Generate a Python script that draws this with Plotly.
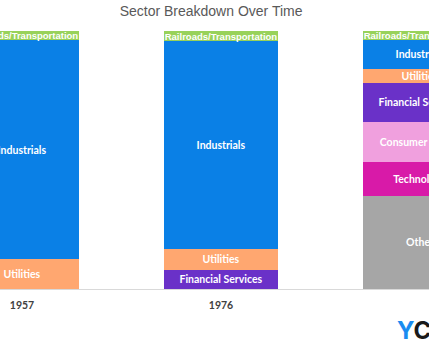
import plotly.graph_objects as go

years = ['1957', '1976', '2019']
railroads = [3.5, 3.9, 3.5]
industrials = [85.0, 80.6, 11.2]
utilities = [11.5, 8.1, 5.4]
financial = [None, 7.4, 15.1]
consumer = [None, None, 15.5]
technology = [None, None, 13.2]
other = [None, None, 36.1]

series = [
    ('Other', other, '#a6a6a6'),
    ('Technology', technology, '#d81aa8'),
    ('Consumer Goods', consumer, '#f0a0de'),
    ('Financial Services', financial, '#6a31c8'),
    ('Utilities', utilities, '#ffa770'),
    ('Industrials', industrials, '#0a80e6'),
    ('Railroads/Transportation', railroads, '#98d25a'),
]

xpos = [0, 1, 2]
fig = go.Figure()
for name, vals, color in series:
    narrow = name.startswith('Railroads')
    fig.add_trace(go.Bar(
        x=xpos, y=vals, name=name,
        marker=dict(color=color, line=dict(width=0)),
        width=0.573,
        text=[name if v is not None else None for v in vals],
        textposition='inside', insidetextanchor='middle',
        textangle=0, constraintext='none',
        insidetextfont=dict(
            family='Liberation Sans Narrow, Arial Narrow, Liberation Sans, Arial' if narrow else 'Lato, Arial',
            size=9.5 if narrow else 10.5, color='white', weight='bold'),
        hoverinfo='skip',
    ))

fig.update_layout(
    barmode='stack',
    width=429, height=358,
    margin=dict(l=0, r=0, t=31, b=69),
    paper_bgcolor='white', plot_bgcolor='white',
    showlegend=False,
    title=dict(text='Sector Breakdown Over Time', x=0.492, xanchor='center', y=0.968, yanchor='middle',
               font=dict(family='Liberation Sans, Arial', size=14, color='#595959')),
    xaxis=dict(range=[-0.1106, 2.045], tickvals=xpos, ticktext=years,
               showgrid=False, zeroline=False, showline=True, linecolor='#d9d9d9', linewidth=1,
               ticks='', ticklabelstandoff=6,
               tickfont=dict(family='Lato, Arial', size=10.5, color='#404040', weight='bold')),
    yaxis=dict(range=[0, 100], visible=False),
    annotations=[dict(
        xref='paper', yref='paper', x=395/429, y=-(330-289)/258, xanchor='left', yanchor='middle',
        text="<span style='color:#1a8cf0'>Y</span><span style='color:#1a1a1a'>C</span>",
        showarrow=False, font=dict(family='Inter, Arial', size=24, weight='bold'))],
)

fig.write_html('out.html', config={'displayModeBar': False},
               post_script="document.body.style.margin='0px';document.body.style.overflow='hidden';")
